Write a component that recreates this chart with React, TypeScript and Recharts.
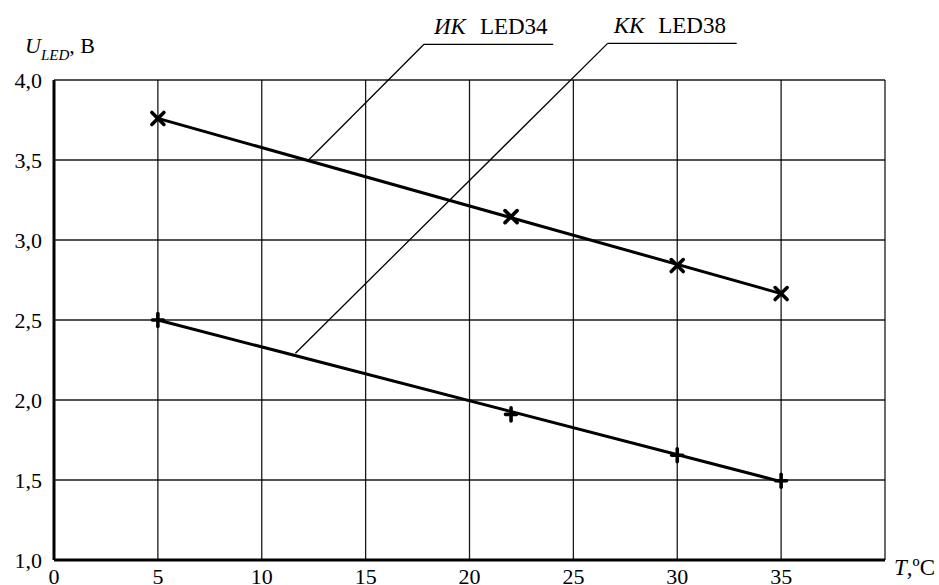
import React from 'react'
import { ComposedChart, Line, Scatter, XAxis, YAxis, CartesianGrid, ReferenceLine } from 'recharts'

// measured points (T, °C -> U_LED, V)
const temps = [5, 22, 30, 35]
const ledIk = [3.76, 3.146, 2.84, 2.665]
const ledKk = [2.5, 1.91, 1.655, 1.495]

// straight fitted lines drawn through the points
const fitT = [5, 35]
const fitIk = [3.76, 2.665]
const fitKk = [2.5, 1.49]

const xTicks = [0, 5, 10, 15, 20, 25, 30, 35, 40]
const yTicks = [1, 1.5, 2, 2.5, 3, 3.5, 4]

// leader lines from each curve up to its caption
const leaderIkT = [12.23, 17.81, 24.03]
const leaderIkU = [3.497, 4.223, 4.223]
const leaderKkT = [11.62, 26.65, 32.86]
const leaderKkU = [2.292, 4.229, 4.229]

const ikData = temps.map((t, i) => ({ t, u: ledIk[i] }))
const kkData = temps.map((t, i) => ({ t, u: ledKk[i] }))
const ikFit = fitT.map((t, i) => ({ t, u: fitIk[i] }))
const kkFit = fitT.map((t, i) => ({ t, u: fitKk[i] }))

const serif = { fontFamily: "'Liberation Serif', 'Times New Roman', serif" }

function CrossMark(props: any) {
  const { cx, cy } = props
  const s = 6
  return (
    <g stroke="#000" strokeWidth={3.6} strokeLinecap="round">
      <line x1={cx - s} y1={cy - s} x2={cx + s} y2={cy + s} />
      <line x1={cx - s} y1={cy + s} x2={cx + s} y2={cy - s} />
    </g>
  )
}

function PlusMark(props: any) {
  const { cx, cy } = props
  return (
    <g stroke="#000" strokeWidth={3.6} strokeLinecap="round">
      <line x1={cx - 5.5} y1={cy} x2={cx + 5.5} y2={cy} />
      <line x1={cx} y1={cy - 6.5} x2={cx} y2={cy + 6.5} />
    </g>
  )
}

const caption = (italic: string, plain: string, offset: number) => (props: any) => {
  const vb = props.viewBox
  return (
    <text x={vb.x + offset} y={vb.y - 10} style={serif} fontSize={23} fill="#000">
      <tspan fontStyle="italic">{italic}</tspan>
      <tspan dx={14}>{plain}</tspan>
    </text>
  )
}

const yTitle = (props: any) => {
  const vb = props.viewBox
  return (
    <text x={vb.x + 25} y={vb.y - 27} style={serif} fontSize={22} fill="#000">
      <tspan fontStyle="italic">U</tspan>
      <tspan fontStyle="italic" fontSize={15} dy={7}>LED</tspan>
      <tspan dy={-7}>, В</tspan>
    </text>
  )
}

const xTitle = (props: any) => {
  const vb = props.viewBox
  return (
    <text x={vb.x + vb.width + 9} y={vb.y + 15} style={serif} fontSize={23} fill="#000">
      <tspan fontStyle="italic">T</tspan>
      <tspan>,ºC</tspan>
    </text>
  )
}

function leader(ts: number[], us: number[], key: string, label?: any) {
  return ts.slice(1).map((t, i) => (
    <ReferenceLine
      key={key + i}
      segment={[{ x: ts[i], y: us[i] }, { x: t, y: us[i + 1] }]}
      stroke="#000"
      strokeWidth={1.3}
      ifOverflow="visible"
      label={i === ts.length - 2 ? label : undefined}
    />
  ))
}

export default function App() {
  return (
    <div style={{ position: 'absolute', left: 0, top: 0, background: '#fff', ...serif }}>
      <ComposedChart width={939} height={585} margin={{ top: 80, right: 54, bottom: 0, left: 0 }} style={serif}>
        <CartesianGrid stroke="#000" strokeWidth={1.3} strokeOpacity={0.9} />
        <XAxis
          dataKey="t"
          type="number"
          domain={[0, 40]}
          ticks={xTicks}
          allowDataOverflow
          height={25}
          tickLine={false}
          tickSize={6}
          tickMargin={2}
          axisLine={{ stroke: '#000', strokeWidth: 3 }}
          tick={{ fontSize: 22, fill: '#000', style: serif }}
          tickFormatter={(v: number) => (v === 40 ? '' : String(v))}
          label={{ content: xTitle }}
        />
        <YAxis
          dataKey="u"
          type="number"
          domain={[1, 4]}
          ticks={yTicks}
          allowDataOverflow
          width={54}
          tickLine={false}
          tickSize={6}
          tickMargin={6}
          axisLine={{ stroke: '#000', strokeWidth: 3 }}
          tick={{ fontSize: 22, fill: '#000', style: serif }}
          tickFormatter={(v: number) => v.toFixed(1).replace('.', ',')}
          label={{ content: yTitle }}
        />
        {leader(leaderIkT, leaderIkU, 'ik', { content: caption('ИК', 'LED34', 10) })}
        {leader(leaderKkT, leaderKkU, 'kk', { content: caption('КК', 'LED38', 6) })}
        <Line data={ikFit} dataKey="u" stroke="#000" strokeWidth={3} dot={false} isAnimationActive={false} />
        <Line data={kkFit} dataKey="u" stroke="#000" strokeWidth={3} dot={false} isAnimationActive={false} />
        <Scatter data={ikData} dataKey="u" shape={CrossMark} isAnimationActive={false} />
        <Scatter data={kkData} dataKey="u" shape={PlusMark} isAnimationActive={false} />
      </ComposedChart>
    </div>
  )
}
